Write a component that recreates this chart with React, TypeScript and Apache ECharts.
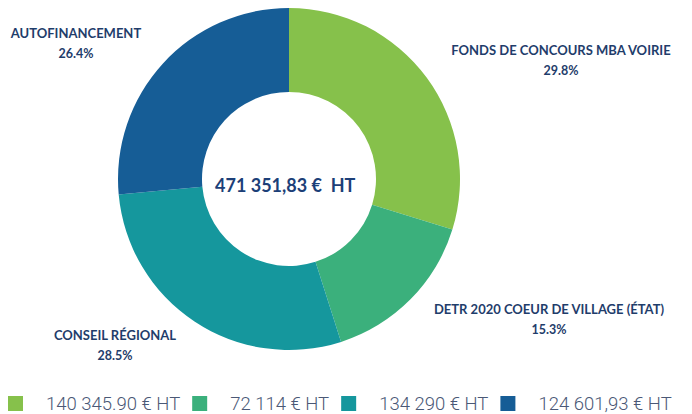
import React, { useEffect, useRef } from "react";
import * as echarts from "echarts";

const categories = [
  "FONDS DE CONCOURS MBA VOIRIE",
  "DETR 2020 COEUR DE VILLAGE (ÉTAT)",
  "CONSEIL RÉGIONAL",
  "AUTOFINANCEMENT",
];
const values = [140345.9, 72114, 134290, 124601.93];
const legendLabels = ["140 345.90 € HT", "72 114 € HT", "134 290 € HT", "124 601,93 € HT"];
const totalLabel = "471 351,83 €  HT";
const colors = ["#86c14b", "#3bb07c", "#15979d", "#165d96"];

// label anchor positions (layout only)
const labelAnchors = [
  [561, 60],
  [549, 319],
  [115, 345],
  [76, 43],
];

export default function App() {
  const ref = useRef<HTMLDivElement>(null);
  useEffect(() => {
    if (!ref.current) return;
    const chart = echarts.init(ref.current, undefined, { renderer: "svg" });
    chart.setOption({
      animation: false,
      backgroundColor: "#ffffff",
      color: colors,
      graphic: [
        {
          type: "text",
          left: 289 - 74,
          top: 176,
          style: {
            text: totalLabel,
            fill: "#1c3f78",
            font: "bold 18px Lato",
          },
        },
      ],
      legend: {
        left: 8,
        top: 394,
        padding: 0,
        itemWidth: 15,
        itemHeight: 15,
        itemGap: 12,
        icon: "rect",
        data: categories,
        formatter: (name: string) => legendLabels[categories.indexOf(name)],
        textStyle: {
          fontFamily: "Roboto",
          fontSize: 18.5,
          fontWeight: 300,
          lineHeight: 16,
          color: "#4a5876",
          padding: [0, 0, 0, 18],
        },
      },
      series: [
        {
          type: "pie",
          center: [289, 179],
          radius: [87, 171],
          startAngle: 90,
          clockwise: true,
          percentPrecision: 1,
          data: categories.map((n, i) => ({ name: n, value: values[i] })),
          label: {
            show: true,
            position: "outside",
            overflow: "none",
            formatter: "{n|{b}}\n{p|{d}%}",
            rich: {
              n: {
                fontFamily: "Lato",
                fontWeight: "bold",
                fontSize: 13,
                color: "#1f3d6b",
                lineHeight: 21,
                align: "center",
              },
              p: {
                fontFamily: "Lato",
                fontWeight: "bold",
                fontSize: 12.5,
                color: "#1f3d6b",
                lineHeight: 21,
                align: "center",
              },
            },
          },
          labelLine: { show: false },
          labelLayout: (params: any) => {
            const a = labelAnchors[params.dataIndex];
            return { x: a[0], y: a[1], align: "center", verticalAlign: "middle" };
          },
          emphasis: { disabled: true },
        },
      ],
    });
    return () => chart.dispose();
  }, []);
  return (
    <div
      ref={ref}
      style={{ position: "absolute", left: 0, top: 0, width: 692, height: 414 }}
    />
  );
}
